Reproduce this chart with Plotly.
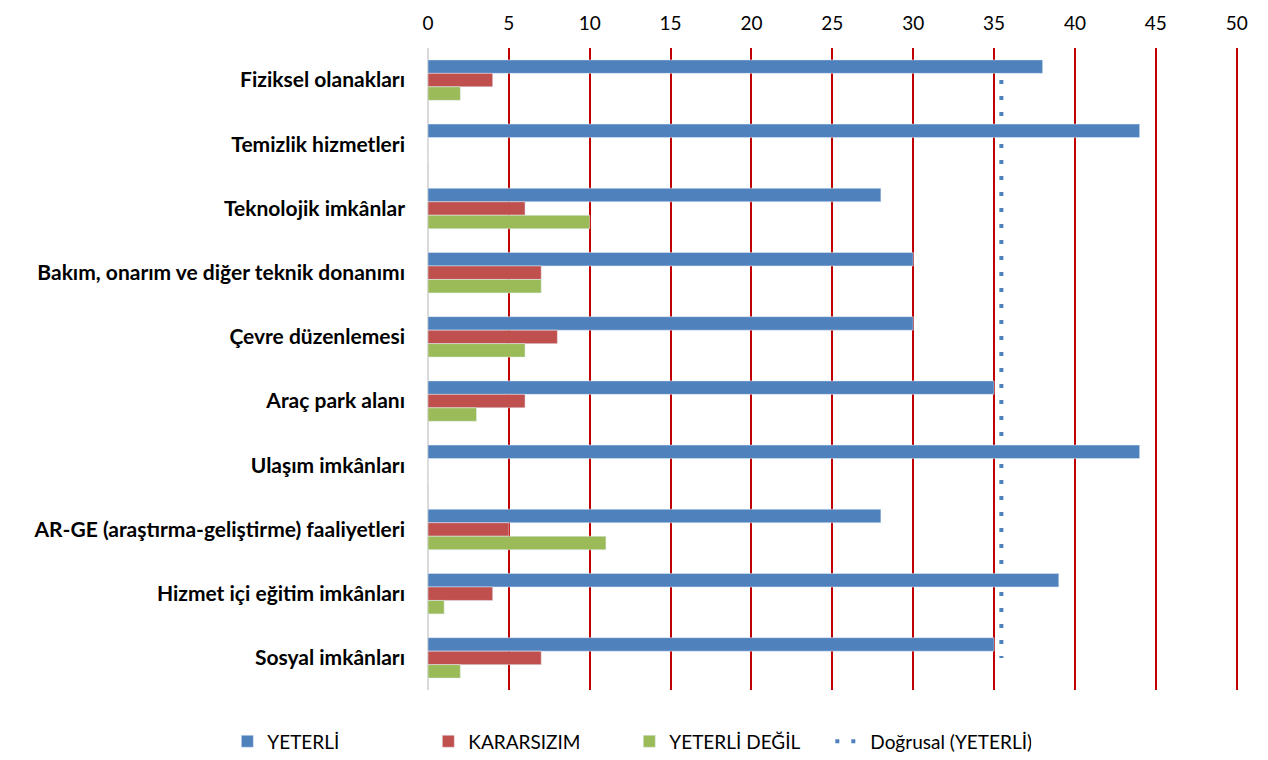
import plotly.graph_objects as go

categories = ["Fiziksel olanakları", "Temizlik hizmetleri", "Teknolojik imkânlar",
              "Bakım, onarım ve diğer teknik donanımı", "Çevre düzenlemesi", "Araç park alanı",
              "Ulaşım imkânları", "AR-GE (araştırma-geliştirme) faaliyetleri",
              "Hizmet içi eğitim imkânları", "Sosyal imkânları"]
yeterli = [38, 44, 28, 30, 30, 35, 44, 28, 39, 35]
kararsizim = [4, 0, 6, 7, 8, 6, 0, 5, 4, 7]
yeterli_degil = [2, 0, 10, 7, 6, 3, 0, 11, 1, 2]
trend_value = 35.45
x_ticks = [0, 5, 10, 15, 20, 25, 30, 35, 40, 45, 50]

FONT = "Lato"
fig = go.Figure()
fig.add_trace(go.Bar(y=categories, x=yeterli, orientation="h", name="YETERLİ",
                     marker=dict(color="#4F81BD")))
fig.add_trace(go.Bar(y=categories, x=kararsizim, orientation="h", name="KARARSIZIM",
                     marker=dict(color="#C0504D")))
fig.add_trace(go.Bar(y=categories, x=yeterli_degil, orientation="h", name="YETERLİ DEĞİL",
                     marker=dict(color="#9BBB59")))
fig.add_trace(go.Scatter(y=categories, x=[trend_value] * len(categories), mode="lines",
                         name="Doğrusal (YETERLİ)",
                         line=dict(color="#4F81BD", width=4, dash="4px,12px")))

fig.update_layout(
    width=1268, height=760,
    margin=dict(l=420, r=38, t=40, b=78, autoexpand=False),
    paper_bgcolor="white", plot_bgcolor="white",
    barmode="group", bargap=0.37, bargroupgap=0,
    font=dict(family=FONT, color="black"),
    legend=dict(orientation="h", xref="container", x=0.49, xanchor="center",
                yref="container", y=0.035, yanchor="middle",
                font=dict(size=19, family=FONT), traceorder="normal",
                entrywidthmode="pixels", entrywidth=156),
    showlegend=True,
)
fig.update_xaxes(side="top", range=[0, 50.08], tickvals=x_ticks, ticktext=[str(t) for t in x_ticks],
                 showgrid=True, gridcolor="#C00000", gridwidth=2,
                 zeroline=True, zerolinecolor="#D9D9D9", zerolinewidth=2,
                 tickfont=dict(size=19, family=FONT), ticks="", ticklabelstandoff=13,
                 showline=False, automargin=False)
fig.update_yaxes(autorange="reversed", tickfont=dict(size=21, family=FONT, weight="bold"),
                 ticks="", ticklabelstandoff=22, showgrid=False, automargin=False)

fig.write_html("out.html")
